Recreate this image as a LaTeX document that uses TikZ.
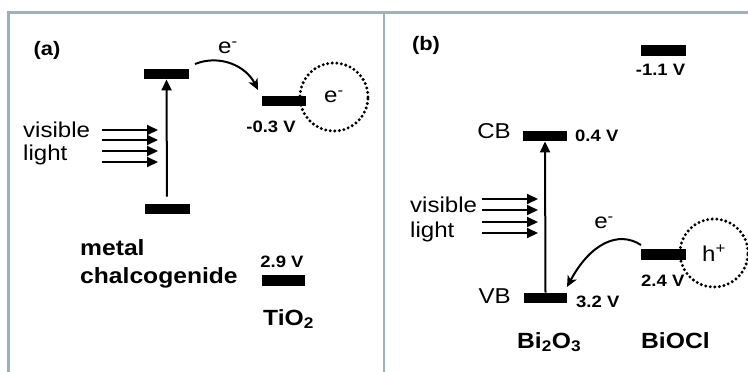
\documentclass[tikz,border=0pt]{standalone}
\usepackage{fontspec}
\setmainfont[FakeStretch=1.12]{Liberation Sans}
\usetikzlibrary{arrows.meta}
\definecolor{framec}{RGB}{150,180,186}
\begin{document}
\begin{tikzpicture}[x=1pt,y=-1pt,
  bar/.style={fill=black, inner sep=0pt, minimum width=45pt, minimum height=10.5pt},
  lbl/.style={font=\fontsize{21.5}{24}\selectfont, inner sep=0pt},
  blbl/.style={font=\fontsize{22}{25}\selectfont\bfseries, inner sep=0pt},
  vlbl/.style={font=\fontsize{16.5}{18}\selectfont\bfseries, inner sep=0pt},
  plbl/.style={font=\fontsize{19.5}{20}\selectfont\bfseries, inner sep=0pt},
  uparrow/.style={line width=2pt, -{Triangle[length=11pt,width=10pt]}},
  lightarrow/.style={line width=2pt, -{Triangle[length=11pt,width=10pt]}},
  transfer/.style={line width=2pt, -{Stealth[length=11pt,width=10pt,inset=3pt]}},
  dotcirc/.style={draw, circle, line width=3.3pt, dash pattern=on 0pt off 4.6pt, line cap=round, minimum size=68pt, inner sep=0pt},
  framel/.style={draw=framec, line width=2.2pt}]
\useasboundingbox (0,0) rectangle (748,372);
% frame
\draw[framel] (8.5,372) -- (8.5,12.5) -- (748,12.5);
\draw[framel] (384,12.5) -- (384,372);

% ---------- panel (a)
\node[plbl] (pa) at (47,50) {(a)};
\node[dotcirc, lbl] (circA) at (334,97) {e\textsuperscript{-}};
\node[bar] (cbA) at (166.5,74) {};
\node[bar] (vbA) at (167,209) {};
\node[bar, minimum width=44pt] (tioCB) at (284,101) {};
\node[bar, minimum width=43pt] (tioVB) at (283.5,280.5) {};
\draw[uparrow, shorten <=7pt] (vbA.north) -- (cbA.south);
\foreach \yy [count=\i] in {130,140,151,162} {
  \coordinate (laS\i) at (102,\yy);
  \coordinate (laE\i) at (158,\yy);
  \draw[lightarrow] (laS\i) -- (laE\i);
}
\node[lbl, anchor=base west] (visA) at (23,137) {visible};
\node[lbl, anchor=base west] (ligA) at (23,160) {light};
\node[lbl] (eA) at (228,48) {e\textsuperscript{-}};
\coordinate (trAs) at (195,64);
\coordinate (trAe) at (258,90);
\draw[transfer] (trAs) .. controls (220,54) and (246,66) .. (trAe);
\node[vlbl] (vA) at (271,127) {-0.3 V};
\node[blbl, anchor=base west] (metal) at (80,255) {metal};
\node[blbl, anchor=base west] (chalc) at (80,283) {chalcogenide};
\node[vlbl] (v29) at (282,262) {2.9 V};
\node[blbl, anchor=base west] (tio) at (263,325) {TiO\textsubscript{2}};

% ---------- panel (b)
\node[plbl] (pb) at (426,45) {(b)};
\node[dotcirc, lbl] (circB) at (714,253) {h\textsuperscript{+}};
\node[bar] (bioclCB) at (663.5,50.5) {};
\node[vlbl] (v11) at (660.5,70) {-1.1 V};
\node[bar, minimum width=44pt] (biCB) at (545,136) {};
\node[bar, minimum width=43pt] (biVB) at (545.5,298) {};
\node[bar] (bioclVB) at (663.5,254.5) {};
\node[lbl, anchor=base east] (cbL) at (511,138) {CB};
\node[lbl, anchor=base east] (vbL) at (511,303) {VB};
\node[vlbl, anchor=west] (v04) at (575,136) {0.4 V};
\node[vlbl, anchor=west] (v32) at (576,302) {3.2 V};
\draw[uparrow] (biVB.north) -- (biCB.south);
\foreach \yy [count=\i] in {199,210,222,233} {
  \coordinate (lbS\i) at (482,\yy);
  \coordinate (lbE\i) at (538,\yy);
  \draw[lightarrow] (lbS\i) -- (lbE\i);
}
\node[lbl, anchor=base west] (visB) at (410,212) {visible};
\node[lbl, anchor=base west] (ligB) at (410,237) {light};
\node[lbl] (eB) at (604,223) {e\textsuperscript{-}};
\coordinate (trBs) at (641,245);
\coordinate (trBe) at (567,287);
\draw[transfer] (trBs) .. controls (618,230) and (590,244) .. (trBe);
\node[vlbl, anchor=west] (v24) at (641,281) {2.4 V};
\node[blbl, anchor=base west] (bio) at (517,348) {Bi\textsubscript{2}O\textsubscript{3}};
\node[blbl, anchor=base west] (biocl) at (641,348) {BiOCl};
\end{tikzpicture}
\end{document}
